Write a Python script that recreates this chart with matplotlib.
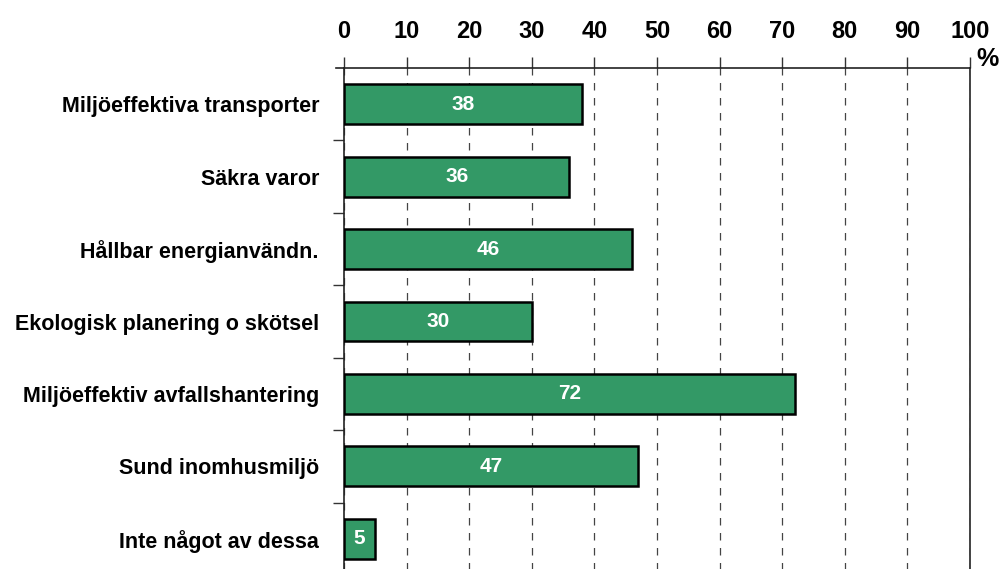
import matplotlib.pyplot as plt
import numpy as np
from matplotlib.ticker import FixedLocator

categories = [
    'Miljöeffektiva transporter',
    'Säkra varor',
    'Hållbar energianvändn.',
    'Ekologisk planering o skötsel',
    'Miljöeffektiv avfallshantering',
    'Sund inomhusmiljö',
    'Inte något av dessa',
]
values = [38, 36, 46, 30, 72, 47, 5]
x_ticks = list(range(0, 101, 10))

BAR_COLOR = '#339966'
FONT = ['Liberation Sans Narrow', 'Liberation Sans', 'DejaVu Sans']

plt.rcParams['font.family'] = FONT

fig = plt.figure(figsize=(10, 5.69), dpi=100)
# axes reaches a little past the bottom edge, like the reference
ax = fig.add_axes([0.344, -6 / 569, 0.626, (569 - 68 + 6) / 569])

y = np.arange(len(categories))
ax.barh(y, values, height=0.55, color=BAR_COLOR, edgecolor='black',
        linewidth=1.8, zorder=3)

for yi, v in zip(y, values):
    ax.text(v / 2, yi, str(v), ha='center', va='center', color='white',
            fontsize=15, fontweight='bold', zorder=4)

ax.set_xlim(0, 100)
ax.set_ylim(len(categories) - 0.5, -0.5)

ax.xaxis.tick_top()
ax.set_xticks(x_ticks)
ax.set_xticklabels([str(t) for t in x_ticks], fontsize=17, fontweight='bold')
ax.tick_params(axis='x', direction='out', length=8, width=1, pad=10,
               color='#333333')

ax.set_yticks(y)
ax.set_yticklabels(categories, fontsize=15.5, fontweight='bold')
ax.tick_params(axis='y', which='major', length=0, pad=18)
ax.yaxis.set_minor_locator(FixedLocator(np.arange(0.5, len(categories) - 1, 1)))
ax.tick_params(axis='y', which='minor', direction='out', length=8, width=1,
               color='#333333')

ax.grid(axis='x', linestyle=(0, (6, 6)), color='#444444', linewidth=0.9,
        zorder=0)
ax.set_axisbelow(True)

for side in ['top', 'left', 'right']:
    ax.spines[side].set_linewidth(1.2)
    ax.spines[side].set_color('#222222')
ax.spines['bottom'].set_visible(False)

# short stub of the top line to the left of zero
ax.plot([-1.3, 0], [-0.5, -0.5], color='#222222', linewidth=1.2,
        clip_on=False, zorder=5)

ax.text(1.01, 0.995, '%', transform=ax.transAxes, ha='left', va='bottom',
        fontsize=18, fontweight='bold')

fig.savefig('out.png', dpi=100)
